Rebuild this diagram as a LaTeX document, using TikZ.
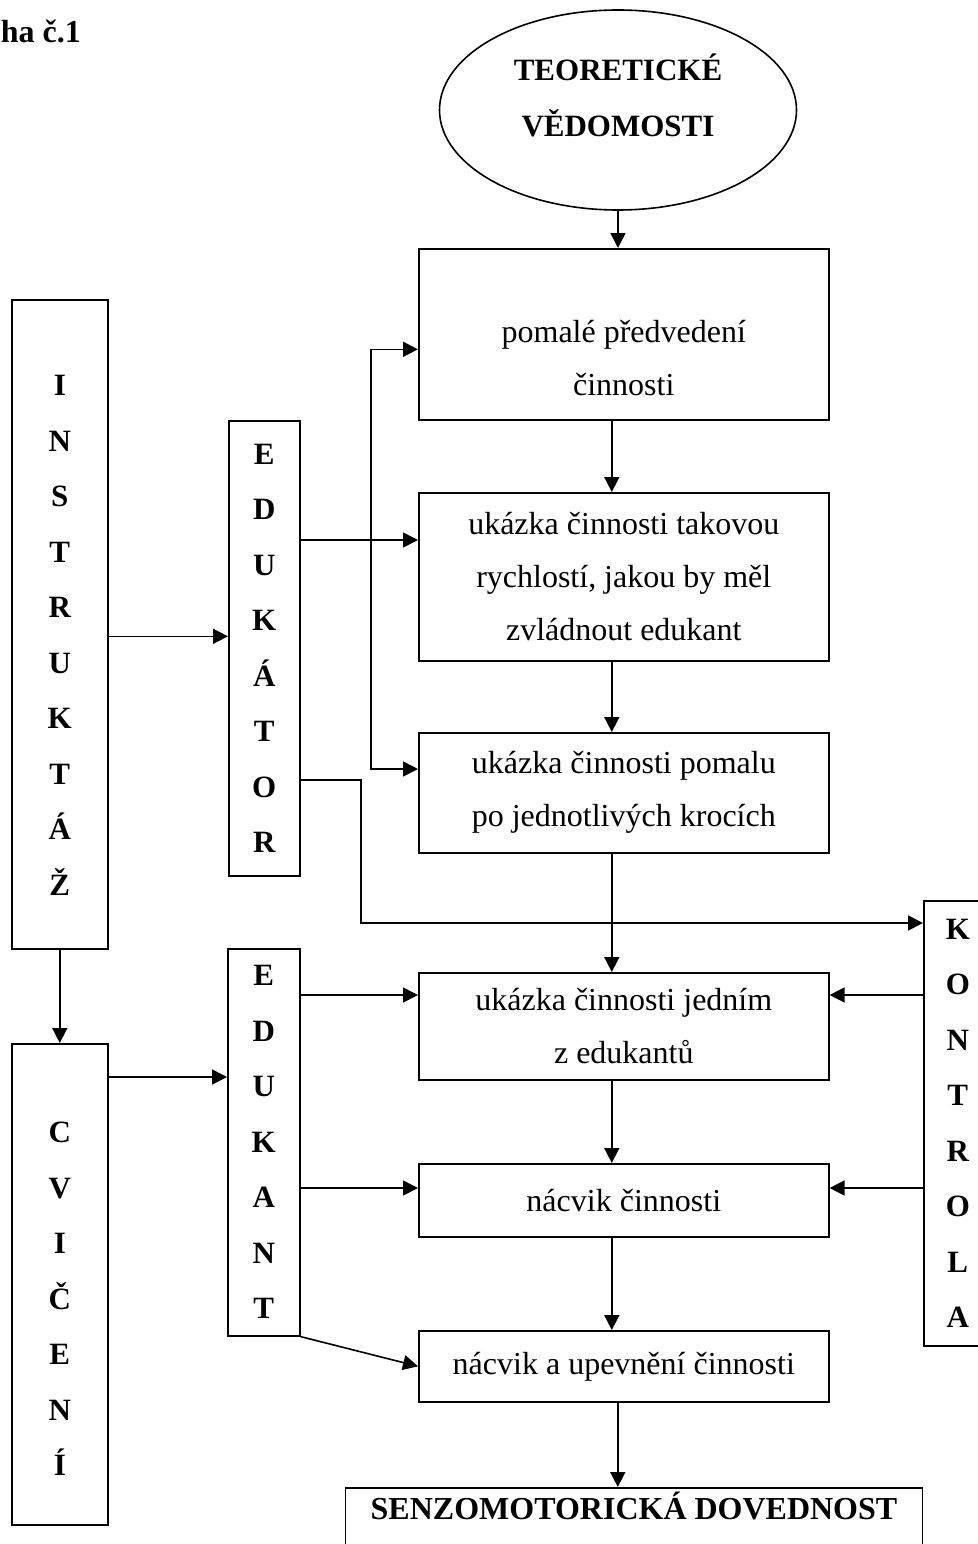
\documentclass[tikz,border=0pt]{standalone}
\usepackage{fontspec}
\setmainfont{Liberation Serif}
\usetikzlibrary{arrows.meta,shapes.geometric}
\tikzset{
    every node/.style={draw, line width=1.6pt, inner sep=0pt,
    	font=\fontsize{32}{53}\selectfont}
}
\tikzset{
    blok/.style={rectangle, align=center, minimum width=410pt, anchor=north west},
    sloupec/.style={rectangle, align=center, anchor=north west,
    	font=\bfseries\fontsize{31}{55.5}\selectfont}
}
\tikzset{
	sip/.style={-{Triangle[length=15pt,width=15pt]}, line width=1.6pt}
}

\begin{document}
\begin{tikzpicture}[x=1pt, y=-1pt]
  \useasboundingbox (0,0) rectangle (977,1544);
  \node (nadpis) [draw=none, anchor=west, font=\bfseries\fontsize{32}{36}\selectfont] at (0,31) {ha č.1};
  \node (teorie) [ellipse, align=center, minimum width=357pt, minimum height=200pt, text depth=30pt,
  	font=\bfseries\fontsize{31}{56}\selectfont] at (618,110) {TEORETICKÉ\\VĚDOMOSTI};

  \node (pomale) [blok, minimum height=171pt] at (418,248) {\rule{0pt}{70pt}pomalé předvedení\\činnosti};
  \node (rychle) [blok, minimum height=168pt] at (418,492) {ukázka činnosti takovou\\rychlostí, jakou by měl\\zvládnout edukant};
  \node (krocich) [blok, minimum height=120pt] at (418,732) {ukázka činnosti pomalu\\po jednotlivých krocích};
  \node (jednim) [blok, minimum height=107pt] at (418,972) {ukázka činnosti jedním\\z edukantů};
  \node (nacvik) [blok, minimum height=73pt] at (418,1163) {nácvik činnosti};
  \node (upevneni) [blok, minimum height=71pt] at (418,1330) {nácvik a upevnění činnosti};
  \node (senzo) [rectangle, anchor=north, minimum width=577pt, text depth=70pt, inner ysep=4pt,
  	font=\bfseries\fontsize{32}{38}\selectfont] at (634,1487) {SENZOMOTORICKÁ DOVEDNOST};

  \node (instruktaz) [sloupec, minimum width=96pt, minimum height=649pt] at (11,299) {\rule{0pt}{42pt}I\\N\\S\\T\\R\\U\\K\\T\\Á\\Ž};
  \node (cviceni) [sloupec, minimum width=96pt, minimum height=481pt] at (11,1043) {\rule{0pt}{50pt}C\\V\\I\\Č\\E\\N\\Í};
  \node (edukator) [sloupec, minimum width=71pt, minimum height=455pt] at (228,420) {E\\D\\U\\K\\Á\\T\\O\\R};
  \node (edukant) [sloupec, minimum width=72pt, minimum height=387pt] at (227,948) {E\\D\\U\\K\\A\\N\\T};
  \node (kontrola) [sloupec, minimum width=68pt, minimum height=445pt] at (923,900) {K\\O\\N\\T\\R\\O\\L\\A};

  \coordinate (rozvod) at (371,540);
  \coordinate (ohyb) at (361,780);

  % hlavni sloupec
  \draw[sip] (teorie.south) -- (teorie.south |- pomale.north);
  \draw[sip] ([xshift=-12pt]pomale.south) -- ([xshift=-12pt]rychle.north);
  \draw[sip] ([xshift=-12pt]rychle.south) -- ([xshift=-12pt]krocich.north);
  \draw[sip] ([xshift=-12pt]krocich.south) -- ([xshift=-12pt]jednim.north);
  \draw[sip] ([xshift=-12pt]jednim.south) -- ([xshift=-12pt]nacvik.north);
  \draw[sip] ([xshift=-12pt]nacvik.south) -- ([xshift=-12pt]upevneni.north);
  \draw[sip] ([xshift=-6pt]upevneni.south) -- ([xshift=-6pt]upevneni.south |- senzo.north);

  % levy sloupec
  \draw[sip] ([yshift=-12pt]instruktaz.east) -- ([yshift=-12pt]instruktaz.east -| edukator.west);
  \draw[sip] (instruktaz.south) -- (cviceni.north);
  \draw[sip] ([yshift=-34pt]cviceni.north east) -- ([yshift=-34pt]cviceni.north east -| edukant.west);

  % edukator
  \draw[sip] (rozvod -| edukator.east) -- (rozvod -| rychle.west);
  \draw[sip] (rozvod) |- ([yshift=-15pt]pomale.west);
  \draw[sip] (rozvod) |- ([yshift=-37pt]krocich.north west);
  \draw[sip] (ohyb -| edukator.east) -- (ohyb) |- ([yshift=-23pt]kontrola.north west);

  % edukant a kontrola
  \draw[sip] ([yshift=-23pt]jednim.north west -| edukant.east) -- ([yshift=-23pt]jednim.north west);
  \draw[sip] ([yshift=-23pt]jednim.north east -| kontrola.west) -- ([yshift=-23pt]jednim.north east);
  \draw[sip] ([yshift=-25pt]nacvik.north west -| edukant.east) -- ([yshift=-25pt]nacvik.north west);
  \draw[sip] ([yshift=-25pt]nacvik.north east -| kontrola.west) -- ([yshift=-25pt]nacvik.north east);
  \draw[sip] (edukant.south east) -- (upevneni.west);
\end{tikzpicture}
\end{document}
